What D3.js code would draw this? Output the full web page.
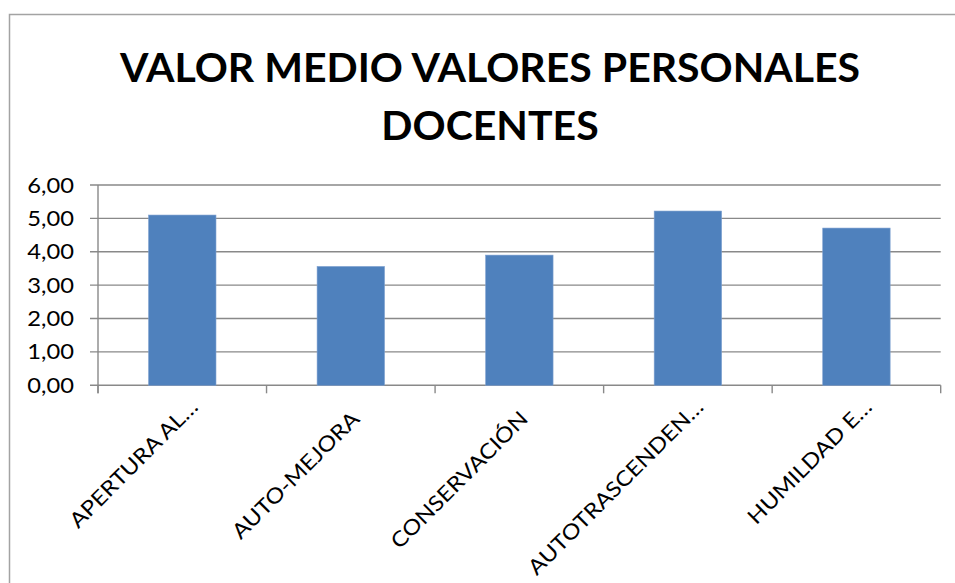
<!DOCTYPE html>
<html>
<head>
<meta charset="utf-8">
<title>Valor medio valores personales docentes</title>
<script src="https://cdn.jsdelivr.net/npm/d3@7"></script>
<style>
  html, body { margin: 0; padding: 0; background: #fff; overflow: hidden; }
  svg { display: block; }
  text { font-family: Lato, "Open Sans", sans-serif; fill: #000; }
</style>
</head>
<body>
<svg width="955" height="583"></svg>
<script>
// data
const categories = ["APERTURA AL…", "AUTO-MEJORA", "CONSERVACIÓN", "AUTOTRASCENDEN…", "HUMILDAD E…"];
const values = [5.10, 3.56, 3.90, 5.22, 4.71];
const yTicks = [0, 1, 2, 3, 4, 5, 6];
const titleLines = ["VALOR MEDIO VALORES PERSONALES", "DOCENTES"];

const svg = d3.select("svg");

// chart frame: only top and left edges fall inside the picture
svg.append("path")
  .attr("d", "M9.5,583 V14.5 H955")
  .attr("fill", "none")
  .attr("stroke", "#a3a3a3")
  .attr("stroke-width", 1.5);

// title, two centred lines
const title = svg.append("g");
titleLines.forEach((line, i) => {
  title.append("text")
    .text(line)
    .attr("x", 490)
    .attr("y", 82 + i * 57.5)
    .attr("text-anchor", "middle")
    .style("font-weight", "bold")
    .style("font-size", "41px");
});

// plot area
const plotL = 98, plotR = 940.7, plotT = 185, plotB = 385.3;
const stretch = 1.13; // labels in the picture are a little wider than Lato

const x = d3.scaleBand()
  .domain(categories)
  .range([plotL, plotR])
  .paddingInner(0.6)
  .paddingOuter(0.3);

const y = d3.scaleLinear()
  .domain([0, 6])
  .range([plotB, plotT]);

// horizontal gridlines
svg.append("g")
  .selectAll("line")
  .data(yTicks)
  .join("line")
  .attr("x1", plotL - 8)
  .attr("x2", plotR)
  .attr("y1", d => y(d))
  .attr("y2", d => y(d))
  .attr("stroke", "#898989")
  .attr("stroke-width", 1.4);

// bars
svg.append("g")
  .selectAll("rect")
  .data(values)
  .join("rect")
  .attr("x", (d, i) => x(categories[i]))
  .attr("width", x.bandwidth())
  .attr("y", d => y(d))
  .attr("height", d => y(0) - y(d))
  .attr("fill", "#4f81bd")
  .attr("stroke", "#7c9fcf")
  .attr("stroke-width", 0.6);

// y axis line
svg.append("line")
  .attr("x1", plotL).attr("x2", plotL)
  .attr("y1", plotT).attr("y2", plotB + 8)
  .attr("stroke", "#898989")
  .attr("stroke-width", 1.4);

// x tick marks at band edges
const step = x.step();
const edges = d3.range(categories.length + 1).map(i => plotL + i * step);
svg.append("g")
  .selectAll("line")
  .data(edges)
  .join("line")
  .attr("x1", d => d).attr("x2", d => d)
  .attr("y1", plotB).attr("y2", plotB + 8)
  .attr("stroke", "#898989")
  .attr("stroke-width", 1.4);

// y tick labels
svg.append("g")
  .selectAll("text")
  .data(yTicks)
  .join("text")
  .text(d => d3.format(".2f")(d).replace(".", ","))
  .attr("text-anchor", "end")
  .style("font-size", "21px")
  .attr("transform", d => "translate(74," + (y(d) + 7.5) + ") scale(" + stretch + ",1)");

// rotated category labels, end of text just under the category centre
svg.append("g")
  .selectAll("text")
  .data(categories)
  .join("text")
  .text(d => d)
  .attr("text-anchor", "end")
  .style("font-size", "21px")
  .attr("transform", d => {
    const cx = x(d) + x.bandwidth() / 2;
    const full = !d.endsWith("…");
    const px = cx + (full ? 10 : 17);
    const py = plotB + (full ? 35 : 23);
    return "translate(" + px + "," + py + ") rotate(-45) scale(" + stretch + ",1)";
  });
</script>
</body>
</html>
